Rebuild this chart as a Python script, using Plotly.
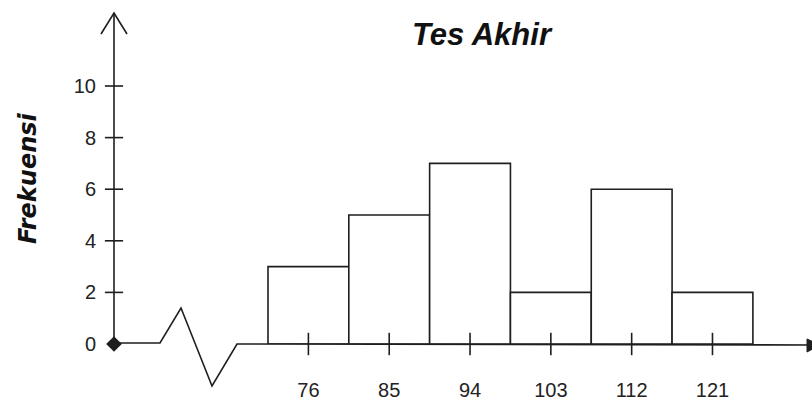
import plotly.graph_objects as go

# ---------------- data ----------------
TITLE = "Tes Akhir"
Y_TITLE = "Frekuensi"
midpoints = [76, 85, 94, 103, 112, 121]
frequencies = [3, 5, 7, 2, 6, 2]
class_width = 9
x_tick_labels = ["76", "85", "94", "103", "112", "121"]
y_ticks = [0, 2, 4, 6, 8, 10]
y_tick_labels = ["0", "2", "4", "6", "8", "10"]

# ---------------- layout constants ----------------
W, H = 812, 401
ML, MR, MT, MB = 114, 2, 13, 57
X_RANGE = [54.35, 131.86]
Y_RANGE = [0, 12.83]
INK = "#1e1e1e"
LW = 1.6
FONT = "Liberation Sans, Arial, sans-serif"


def pp(xp, yp):
    """pixel position -> paper coordinates (for decorative axis drawing)"""
    return ((xp - ML) / (W - ML - MR), (H - MB - yp) / (H - MT - MB))


def path(points, close=False):
    s = ""
    for i, (a, b) in enumerate(points):
        x, y = pp(a, b)
        s += ("M" if i == 0 else "L") + f"{x:.5f},{y:.5f} "
    return s + ("Z" if close else "")


fig = go.Figure()

fig.add_trace(go.Bar(
    x=midpoints, y=frequencies, width=class_width,
    marker=dict(color="white", line=dict(color=INK, width=LW)),
    hoverinfo="skip",
))

# crossing tick marks on the x axis
fig.add_trace(go.Scatter(
    x=midpoints, y=[0] * len(midpoints), mode="markers",
    marker=dict(symbol="line-ns", size=16, line=dict(color=INK, width=LW)),
    cliponaxis=False, hoverinfo="skip",
))

# crossing tick marks on the y axis
fig.add_trace(go.Scatter(
    x=[X_RANGE[0]] * (len(y_ticks) - 1), y=y_ticks[1:], mode="markers",
    marker=dict(symbol="line-ew", size=13, line=dict(color=INK, width=LW)),
    cliponaxis=False, hoverinfo="skip",
))

# origin diamond
fig.add_trace(go.Scatter(
    x=[X_RANGE[0]], y=[0], mode="markers",
    marker=dict(symbol="diamond", size=12, color=INK),
    cliponaxis=False, hoverinfo="skip",
))

shapes = [
    # y axis with open arrow
    dict(type="path", path=path([(114, 344), (114, 13)])),
    dict(type="path", path=path([(101, 34), (114, 13), (127, 34)])),
    # x axis with break
    dict(type="path", path=path([(114, 343), (160, 343), (181, 308), (212, 386),
                                 (237, 344), (812, 345)])),
]
for s in shapes:
    s.update(xref="paper", yref="paper", line=dict(color=INK, width=LW))
shapes.append(dict(type="path", xref="paper", yref="paper",
                   path=path([(807, 339), (820, 345), (807, 352)], close=True),
                   fillcolor=INK, line=dict(color=INK, width=1)))

tx, ty = pp(482, 34)
ax_x, ax_y = pp(28, 178)

fig.update_layout(
    width=W, height=H,
    margin=dict(l=ML, r=MR, t=MT, b=MB, autoexpand=False),
    paper_bgcolor="white", plot_bgcolor="white",
    showlegend=False,
    shapes=shapes,
    font=dict(family=FONT, color="#222"),
    annotations=[
        dict(text=f"<b><i>{TITLE}</i></b>", xref="paper", yref="paper",
             x=tx, y=ty, xanchor="center", yanchor="middle", showarrow=False,
             font=dict(size=31, family=FONT, color="#111")),
        dict(text=f"<b><i>{Y_TITLE}</i></b>", xref="paper", yref="paper",
             x=ax_x, y=ax_y, xanchor="center", yanchor="middle", showarrow=False,
             textangle=-90,
             font=dict(size=24, family="DejaVu Sans, sans-serif", color="#111")),
    ],
    xaxis=dict(range=X_RANGE, showgrid=False, zeroline=False, showline=False,
               automargin=False,
               tickmode="array", tickvals=midpoints, ticktext=x_tick_labels,
               ticks="", ticklabelstandoff=32, tickfont=dict(size=20)),
    yaxis=dict(range=Y_RANGE, showgrid=False, zeroline=False, showline=False,
               automargin=False,
               tickmode="array", tickvals=y_ticks, ticktext=y_tick_labels,
               ticks="", ticklabelstandoff=17, tickfont=dict(size=20)),
)

fig.write_html(
    "out.html",
    config={"displayModeBar": False},
    post_script="document.body.style.margin='0';document.body.style.overflow='hidden';",
)
